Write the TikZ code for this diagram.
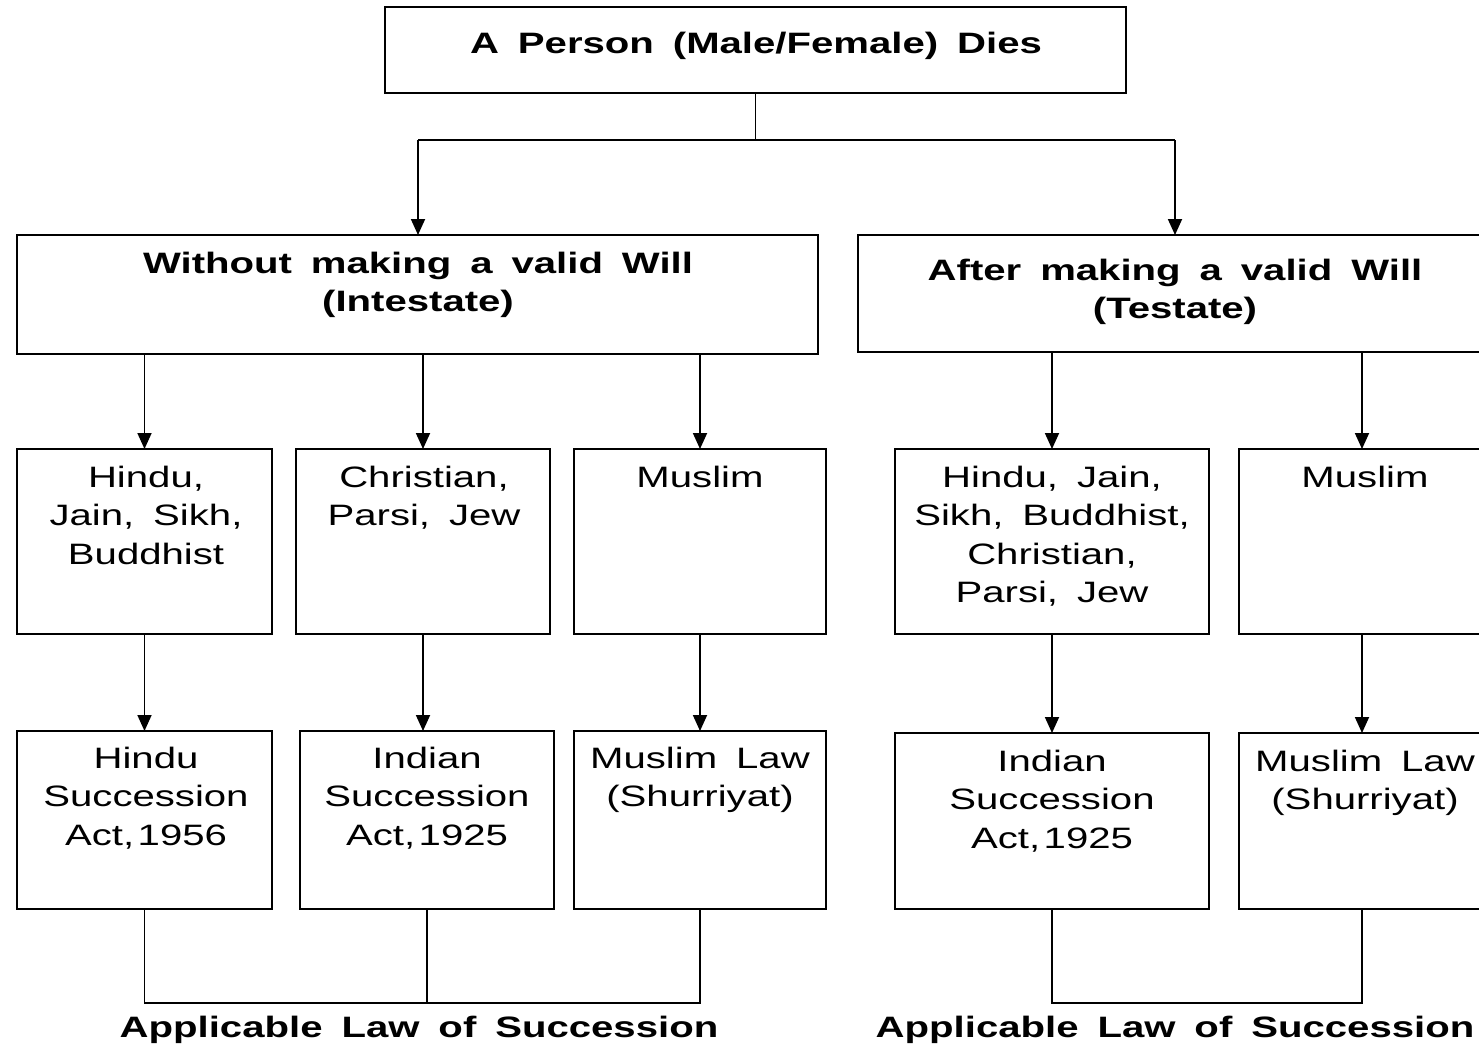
\documentclass[tikz,border=0pt]{standalone}
\usepackage{fontspec}
\setmainfont{Liberation Sans}[FakeStretch=1.36, WordSpace=1.7]
\usetikzlibrary{arrows.meta}
\newcommand\txtsize{\fontsize{14.75}{19.25}\selectfont}
\tikzset{
  box/.style={draw, line width=1pt, rectangle, inner sep=0pt, outer sep=0pt},
  lbl/.style={anchor=north, align=center, inner sep=0pt, font=\txtsize},
  lblb/.style={anchor=north, align=center, inner sep=0pt, font=\txtsize\bfseries},
  ln/.style={line width=0.9pt},
  arr/.style={line width=0.9pt, -{Triangle[length=8pt,width=7pt]}}
}
\begin{document}
\begin{tikzpicture}[x=0.5pt, y=-0.5pt]
\useasboundingbox (0,0) rectangle (1479,1044);
\fill[white] (0,0) rectangle (1479,1044);
\clip (0,0) rectangle (1479,1044);

% boxes
\node[box, minimum width=370.5pt, minimum height=43pt] (top) at (755.5,50) {};
\node[box, minimum width=400.5pt, minimum height=59.5pt] (intest) at (417.5,294.5) {};
\node[box, minimum width=317pt, minimum height=58.5pt] (test) at (1175,293.5) {};

\node[box, minimum width=127.5pt, minimum height=92.5pt] (r2a) at (144.5,541.5) {};
\node[box, minimum width=127pt, minimum height=92.5pt] (r2b) at (423,541.5) {};
\node[box, minimum width=126pt, minimum height=92.5pt] (r2c) at (700,541.5) {};
\node[box, minimum width=157pt, minimum height=92.5pt] (r2d) at (1052,541.5) {};
\node[box, minimum width=123pt, minimum height=92.5pt] (r2e) at (1362,541.5) {};

\node[box, minimum width=127.5pt, minimum height=89pt] (r3a) at (144.5,820) {};
\node[box, minimum width=127pt, minimum height=89pt] (r3b) at (427,820) {};
\node[box, minimum width=126pt, minimum height=89pt] (r3c) at (700,820) {};
\node[box, minimum width=157pt, minimum height=88pt] (r3d) at (1052,821) {};
\node[box, minimum width=123pt, minimum height=88pt] (r3e) at (1362,821) {};

% labels
\node[lblb] (ttop) at (756,26) {\strut A Person (Male/Female) Dies};
\node[lblb] (tintest) at (418,246) {\strut Without making a valid Will\\(Intestate)};
\node[lblb] (ttest) at (1175,253) {\strut After making a valid Will\\(Testate)};

\node[lbl] (t2a) at (146,460) {\strut Hindu,\\Jain, Sikh,\\Buddhist};
\node[lbl] (t2b) at (424,460) {\strut Christian,\\Parsi, Jew};
\node[lbl] (t2c) at (700,460) {\strut Muslim};
\node[lbl] (t2d) at (1052,460) {\strut Hindu, Jain,\\Sikh, Buddhist,\\Christian,\\Parsi, Jew};
\node[lbl] (t2e) at (1365,460) {\strut Muslim};

\node[lbl] (t3a) at (146,741) {\strut Hindu\\Succession\\Act,\kern0.12em1956};
\node[lbl] (t3b) at (427,741) {\strut Indian\\Succession\\Act,\kern0.12em1925};
\node[lbl] (t3c) at (700,741) {\strut Muslim Law\\(Shurriyat)};
\node[lbl] (t3d) at (1052,744) {\strut Indian\\Succession\\Act,\kern0.12em1925};
\node[lbl] (t3e) at (1365,744) {\strut Muslim Law\\(Shurriyat)};

\node[lblb] (appl) at (419,1010) {\strut Applicable Law of Succession};
\node[lblb] (appr) at (1175,1010) {\strut Applicable Law of Succession};

% connectors
\coordinate (jm) at (755.5,140);
\coordinate (jl) at (418,140);
\coordinate (jr) at (1175,140);
\draw[ln] (top.south) -- (jm);
\draw[ln] (jl) -- (jr);
\draw[arr] (jl) -- (jl |- intest.north);
\draw[arr] (jr) -- (test.north);

\draw[arr] (intest.south -| r2a.north) -- (r2a.north);
\draw[arr] (intest.south -| r2b.north) -- (r2b.north);
\draw[arr] (intest.south -| r2c.north) -- (r2c.north);
\draw[arr] (test.south -| r2d.north) -- (r2d.north);
\draw[arr] (test.south -| r2e.north) -- (r2e.north);

\draw[arr] (r2a.south) -- (r2a.south |- r3a.north);
\draw[arr] (r2b.south) -- (r2b.south |- r3b.north);
\draw[arr] (r2c.south) -- (r2c.south |- r3c.north);
\draw[arr] (r2d.south) -- (r2d.south |- r3d.north);
\draw[arr] (r2e.south) -- (r2e.south |- r3e.north);

\draw[ln] (r3a.south) -- ++(0,94) -| (r3c.south);
\draw[ln] (r3b.south) -- ++(0,94);
\draw[ln] (r3d.south) -- ++(0,94) -| (r3e.south);
\end{tikzpicture}
\end{document}
